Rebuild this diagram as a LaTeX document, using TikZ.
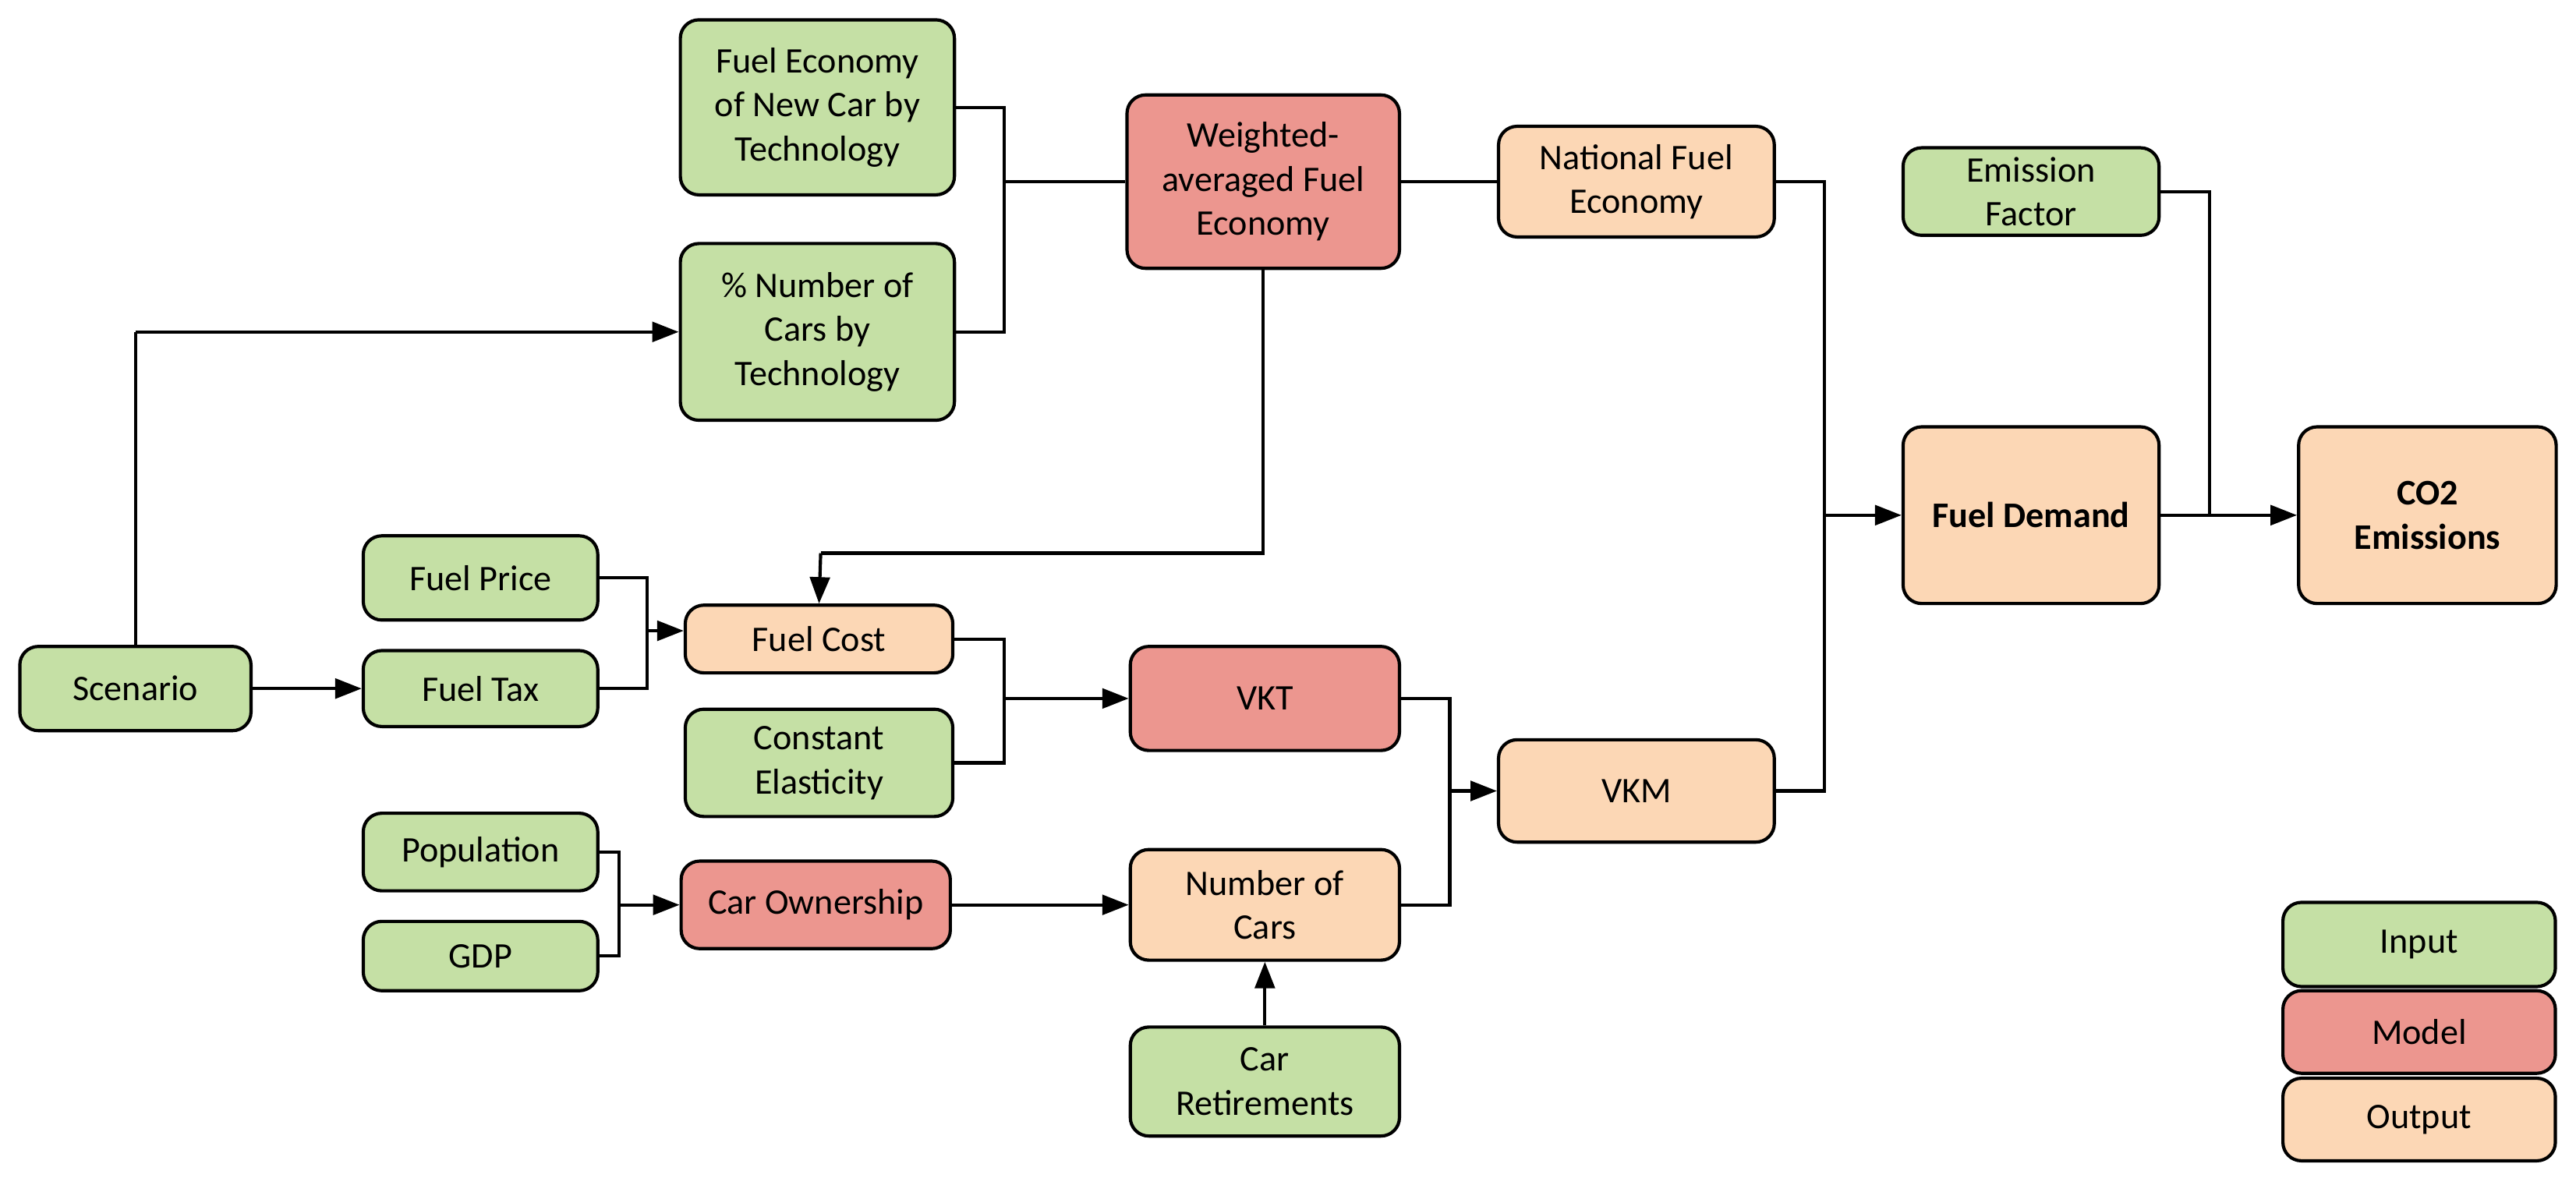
\documentclass[tikz,border=0pt]{standalone}
\usepackage{fontspec}
\setmainfont{Carlito}
\usetikzlibrary{arrows.meta}
\definecolor{ginp}{RGB}{197,224,165}
\definecolor{gmod}{RGB}{236,150,143}
\definecolor{gout}{RGB}{252,215,181}
\tikzset{
 box/.style={draw=black,line width=1.4pt,rounded corners=0.28cm,align=center,inner sep=0pt,font=\fontsize{15.5}{19}\selectfont},
 inp/.style 2 args={box,fill=ginp,minimum width=#1*0.025cm,minimum height=#2*0.025cm},
 mod/.style 2 args={box,fill=gmod,minimum width=#1*0.025cm,minimum height=#2*0.025cm},
 out/.style 2 args={box,fill=gout,minimum width=#1*0.025cm,minimum height=#2*0.025cm},
 ln/.style={line width=1.4pt},
 ar/.style={line width=1.4pt,-{Triangle[length=0.4cm,width=0.3cm]}},
}
\begin{document}
\begin{tikzpicture}[x=0.025cm,y=-0.025cm]
\useasboundingbox (0,0) rectangle (1560,713);
\node[inp={166}{106}] (fe) at (495,65) {Fuel Economy\\of New Car by\\Technology};
\node[inp={166}{107}] (pn) at (495,201) {\% Number of\\Cars by\\Technology};
\node[mod={165}{105}] (wa) at (765,110) {Weighted-\\averaged Fuel\\Economy};
\node[out={167}{67}] (nf) at (991,110) {National Fuel\\Economy};
\node[inp={155}{53}] (ef) at (1230,116) {Emission\\Factor};
\node[out={155}{107}] (fd) at (1230,312) {\bfseries Fuel Demand};
\node[out={156}{107}] (co) at (1470,312) {\bfseries CO2\\\bfseries Emissions};
\node[inp={140}{51}] (sc) at (82,417) {Scenario};
\node[inp={142}{51}] (fp) at (291,350) {Fuel Price};
\node[inp={142}{46}] (ft) at (291,417) {Fuel Tax};
\node[out={162}{41}] (fc) at (496,387) {Fuel Cost};
\node[inp={162}{65}] (ce) at (496,462) {Constant\\Elasticity};
\node[mod={163}{63}] (vkt) at (766,423) {VKT};
\node[out={167}{62}] (vkm) at (991,479) {VKM};
\node[inp={142}{47}] (po) at (291,516) {Population};
\node[inp={142}{42}] (gdp) at (291,579) {GDP};
\node[mod={163}{53}] (cow) at (494,548) {Car Ownership};
\node[out={163}{67}] (nc) at (766,548) {Number of\\Cars};
\node[inp={163}{66}] (cr) at (766,655) {Car\\Retirements};
\node[inp={165}{51}] (li) at (1465,572) {Input};
\node[mod={165}{50}] (lm) at (1465,625) {Model};
\node[out={165}{50}] (lo) at (1465,678) {Output};
% connectors
\coordinate (j1) at (608,110);
\draw[ln] (fe.east) -| (j1) |- (pn.east);
\draw[ln] (j1) -- (wa.west);
\draw[ln] (wa.east) -- (nf.west);
\coordinate (j2) at (1105,312);
\draw[ln] (nf.east) -| (j2) |- (vkm.east);
\draw[ar] (j2) -- (fd.west);
\coordinate (j3) at (1338,312);
\draw[ln] (ef.east) -| (j3);
\draw[ar] (fd.east) -- (co.west);
\coordinate (k1) at (765,335);
\coordinate (k2) at (497,335);
\draw[ln] (wa.south) -- (k1) -- (k2);
\draw[ar] (k2) -- (fc.north);
\coordinate (k3) at (82,201);
\draw[ln] (sc.north) -- (k3);
\draw[ar] (k3) -- (pn.west);
\draw[ar] (sc.east) -- (ft.west);
\coordinate (j4) at (392,382);
\draw[ln] (fp.east) -| (j4) |- (ft.east);
\draw[ar] (j4) -- (fc.west |- j4);
\coordinate (j5) at (608,423);
\draw[ln] (fc.east) -| (j5) |- (ce.east);
\draw[ar] (j5) -- (vkt.west);
\coordinate (j6) at (878,479);
\draw[ln] (vkt.east) -| (j6) |- (nc.east);
\draw[ar] (j6) -- (vkm.west);
\coordinate (j7) at (375,548);
\draw[ln] (po.east) -| (j7) |- (gdp.east);
\draw[ar] (j7) -- (cow.west);
\draw[ar] (cow.east) -- (nc.west);
\draw[ar] (cr.north) -- (nc.south);
\end{tikzpicture}
\end{document}
